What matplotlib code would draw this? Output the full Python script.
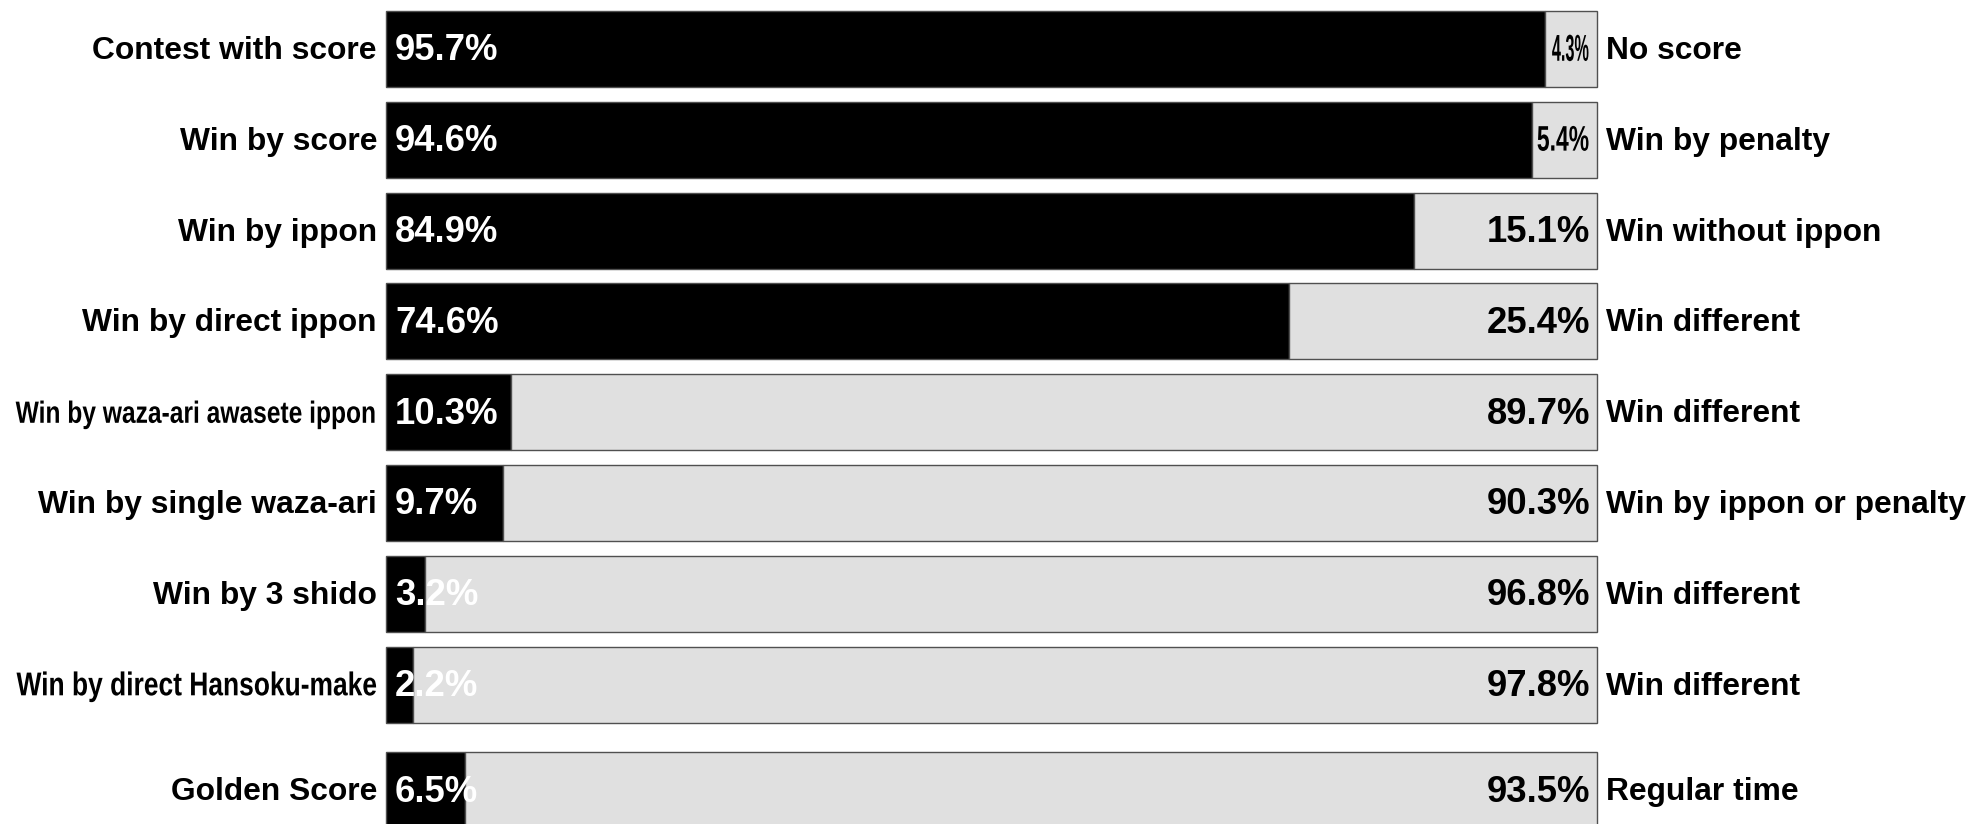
import matplotlib
matplotlib.use("Agg")
import matplotlib.pyplot as plt
from matplotlib import font_manager
from matplotlib.patheffects import AbstractPathEffect
from matplotlib.transforms import Affine2D

# DATA
left_labels = ["Contest with score", "Win by score", "Win by ippon", "Win by direct ippon",
               "Win by waza-ari awasete ippon", "Win by single waza-ari", "Win by 3 shido",
               "Win by direct Hansoku-make", "Golden Score"]
right_labels = ["No score", "Win by penalty", "Win without ippon", "Win different",
                "Win different", "Win by ippon or penalty", "Win different", "Win different",
                "Regular time"]
left_values = [95.7, 94.6, 84.9, 74.6, 10.3, 9.7, 3.2, 2.2, 6.5]
right_values = [4.3, 5.4, 15.1, 25.4, 89.7, 90.3, 96.8, 97.8, 93.5]

#FONTS
names = {f.name for f in font_manager.fontManager.ttflist}
mainfont = 'Liberation Sans' if 'Liberation Sans' in names else 'DejaVu Sans'
plt.rcParams['font.family'] = [mainfont, 'DejaVu Sans']


#squeezed-looking text: small font stretched vertically (stays a real Text object)
class Stretch(AbstractPathEffect):
    def __init__(self, sy):
        super().__init__()
        self.sy = sy

    def draw_path(self, renderer, gc, tpath, affine, rgbFace=None):
        ys = affine.transform(tpath.vertices)[:, 1]
        yc = (ys.min() + ys.max()) / 2
        t = affine + Affine2D().translate(0, -yc).scale(1, self.sy).translate(0, yc)
        renderer.draw_path(gc, tpath, t, rgbFace)


#LAYOUT
W, H = 1970, 824
barleft, barright = 386, 1597
pitch = 90.8          # pixels per row
topcenter = 49        # pixel centre of first bar
golden_gap = 0.164    # extra space before last row
barheight = 0.837
labelsize = 22.9
valuesize = 26.3
dy = -2               # text baseline nudge in pixels

ypos = [i + (golden_gap if i == len(left_labels) - 1 else 0) for i in range(len(left_labels))]

fig = plt.figure(figsize=(W / 100, H / 100), dpi=100)
ax = fig.add_axes([barleft / W, 0, (barright - barleft) / W, 1])
ax.set_xlim(0, 100)
top = -topcenter / pitch
ax.set_ylim(top + H / pitch, top)
ax.axis('off')

edge = '#505050'
ax.barh(ypos, left_values, height=barheight, color='black', edgecolor=edge, lw=1.0, clip_on=False)
ax.barh(ypos, right_values, left=left_values, height=barheight, color='#e0e0e0',
        edgecolor=edge, lw=1.0, clip_on=False)

#TEXT
squeeze_left = {"Win by waza-ari awasete ippon": (17.7, 1.25), "Win by direct Hansoku-make": (19.0, 1.25)}
squeeze_right = {4.3: (11.7, 2.3), 5.4: (16.5, 1.55)}

for y, lab, rlab, lv, rv in zip(ypos, left_labels, right_labels, left_values, right_values):
    if lab in squeeze_left:
        size, sy = squeeze_left[lab]
        ax.annotate(lab, (0, y), xytext=(-9, dy), textcoords='offset pixels', ha='right',
                    va='center', fontsize=size, fontweight='bold', annotation_clip=False,
                    path_effects=[Stretch(sy)])
    else:
        ax.annotate(lab, (0, y), xytext=(-9, dy), textcoords='offset pixels', ha='right',
                    va='center', fontsize=labelsize, fontweight='bold', annotation_clip=False)
    ax.annotate(rlab, (100, y), xytext=(9, dy), textcoords='offset pixels', ha='left',
                va='center', fontsize=labelsize, fontweight='bold', annotation_clip=False)
    ax.annotate(f"{lv}%", (0, y), xytext=(9, dy), textcoords='offset pixels', ha='left',
                va='center', fontsize=valuesize, fontweight='bold', color='white', annotation_clip=False)
    if rv in squeeze_right:
        size, sy = squeeze_right[rv]
        ax.annotate(f"{rv}%", (100, y), xytext=(-8, 0), textcoords='offset pixels', ha='right',
                    va='center', fontsize=size, fontweight='bold', color='black',
                    annotation_clip=False, path_effects=[Stretch(sy)])
    else:
        ax.annotate(f"{rv}%", (100, y), xytext=(-7, dy), textcoords='offset pixels', ha='right',
                    va='center', fontsize=valuesize, fontweight='bold', color='black', annotation_clip=False)

fig.savefig('out.png', dpi=100, facecolor='white')
